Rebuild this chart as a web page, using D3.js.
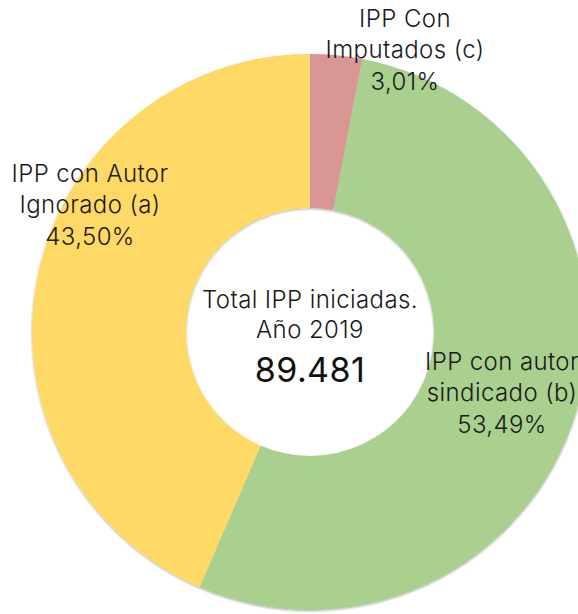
<!DOCTYPE html>
<html>
<head>
<meta charset="utf-8">
<script src="https://cdn.jsdelivr.net/npm/d3@7"></script>
<style>
  html, body { margin: 0; padding: 0; background: #fff; }
  svg { display: block; }
  text { font-family: Inter, "Noto Sans", sans-serif; font-weight: 300; fill: #1a1a1a; letter-spacing: 0.4px; }
  text.total { font-weight: 400; fill: #111; }
</style>
</head>
<body>
<div id="chart"></div>
<script>
// slice data, clockwise from 12 o'clock
var categories = ['IPP Con Imputados (c)', 'IPP con autor sindicado (b)', 'IPP con Autor Ignorado (a)'];
var shares = [3.01, 53.49, 43.50];
var colors = ['#D99694', '#A9D08E', '#FFD966'];
var labelLines = [
  ['IPP Con', 'Imputados (c)'],
  ['IPP con autor', 'sindicado (b)'],
  ['IPP con Autor', 'Ignorado (a)']
];
var centerLines = ['Total IPP iniciadas.', 'Año 2019'];
var totalLabel = '89.481';

var width = 578, height = 614;
var cx = 310, cy = 332;
var outerR = 278, innerR = 124;

var svg = d3.select('#chart')
  .append('svg')
  .attr('width', width)
  .attr('height', height);

// soft shadow like the spreadsheet export
var defs = svg.append('defs');
var shadow = defs.append('filter')
  .attr('id', 'shadow')
  .attr('x', '-10%').attr('y', '-10%')
  .attr('width', '120%').attr('height', '120%');
shadow.append('feDropShadow')
  .attr('dx', 0).attr('dy', 1)
  .attr('stdDeviation', 1.3)
  .attr('flood-color', '#000')
  .attr('flood-opacity', 0.35);

var pie = d3.pie().sort(null).value(function (d) { return d; });
var arc = d3.arc().innerRadius(innerR).outerRadius(outerR);

var g = svg.append('g')
  .attr('transform', 'translate(' + cx + ',' + cy + ')');

g.append('g')
  .attr('filter', 'url(#shadow)')
  .selectAll('path')
  .data(pie(shares))
  .enter()
  .append('path')
  .attr('d', arc)
  .attr('fill', function (d, i) { return colors[i]; });

// label anchors (baseline of the middle line), relative to the chart center
var labelAnchors = [[95, -274], [192, 69], [-220, -119]];
var fmt = function (v) { return v.toFixed(2).replace('.', ',') + '%'; };
var lineH = 31.5;

labelLines.forEach(function (lines, i) {
  var all = lines.concat([fmt(shares[i])]);
  var t = g.append('text')
    .attr('text-anchor', 'middle')
    .attr('font-size', '24px');
  all.forEach(function (s, k) {
    t.append('tspan')
      .attr('x', labelAnchors[i][0])
      .attr('y', labelAnchors[i][1] + (k - 1) * lineH)
      .text(s);
  });
});

// center text
g.append('text')
  .attr('text-anchor', 'middle')
  .attr('font-size', '24px')
  .selectAll('tspan')
  .data(centerLines)
  .enter()
  .append('tspan')
  .attr('x', 0)
  .attr('y', function (d, i) { return -24 + i * 30; })
  .text(function (d) { return d; });

g.append('text')
  .attr('class', 'total')
  .attr('text-anchor', 'middle')
  .attr('font-size', '34px')
  .attr('x', 0)
  .attr('y', 50)
  .text(totalLabel);
</script>
</body>
</html>
